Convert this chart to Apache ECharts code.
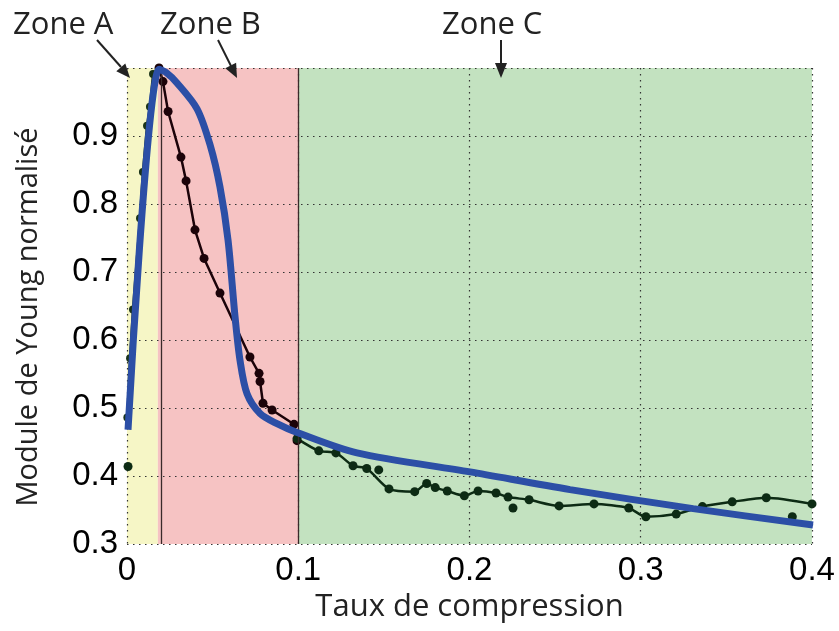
<!DOCTYPE html>
<html>
<head>
<meta charset="utf-8">
<script src="https://cdn.jsdelivr.net/npm/echarts@6/dist/echarts.min.js"></script>
<style>html,body{margin:0;padding:0;background:#fff}#c{width:839px;height:631px}</style>
</head>
<body>
<div id="c"></div>
<script>
// Zone boundaries (Taux de compression)
const zoneBounds = [0, 0.018, 0.1, 0.4];
const zoneNames = ['Zone A', 'Zone B', 'Zone C'];
const xTicks = [0, 0.1, 0.2, 0.3, 0.4];
const yTicks = [0.3, 0.4, 0.5, 0.6, 0.7, 0.8, 0.9];

// Measured data, zone A (rising)
const zoneAData = [[0.0002,0.486],[0.0018,0.573],[0.0035,0.645],[0.0076,0.779],[0.0093,0.847],[0.0117,0.915],[0.0134,0.943],[0.0152,0.991],[0.0187,1.0]];
// Measured data, zone B (falling)
const zoneBData = [[0.0187,1.0],[0.021,0.98],[0.024,0.936],[0.0315,0.869],[0.0345,0.834],[0.0397,0.762],[0.045,0.72],[0.0543,0.669],[0.0718,0.575],[0.0771,0.551],[0.0777,0.539],[0.0794,0.507],[0.0847,0.497],[0.0975,0.476],[0.0993,0.452]];
// Measured data, zone C
const zoneCData = [[0.0993,0.455],[0.112,0.437],[0.122,0.434],[0.132,0.415],[0.140,0.411],[0.153,0.381],[0.168,0.377],[0.175,0.389],[0.180,0.383],[0.187,0.378],[0.197,0.371],[0.205,0.378],[0.2155,0.375],[0.2225,0.369],[0.2348,0.365],[0.2523,0.356],[0.2727,0.359],[0.293,0.353],[0.303,0.340],[0.3207,0.344],[0.336,0.355],[0.3534,0.362],[0.3733,0.368],[0.4,0.359]];
// Isolated measured points
const outlierData = [[0.0006,0.414],[0.147,0.409],[0.2254,0.353],[0.3885,0.340]];
// Model curve
const modelData = [[0.0006,0.468],[0.0187,0.998],[0.0225,0.994],[0.0292,0.978],[0.0409,0.940],[0.0485,0.887],[0.0543,0.825],[0.059,0.747],[0.0631,0.634],[0.066,0.570],[0.0701,0.521],[0.0777,0.492],[0.0876,0.477],[0.0993,0.464],[0.1343,0.434],[0.2003,0.406],[0.2587,0.380],[0.3306,0.352],[0.4006,0.328]];

const zoneColors = ['#f6f6c6', '#f6c3c3', '#c3e2c0'];
const tickFont = 'Liberation Sans';
const titleFont = 'Open Sans';

const chart = echarts.init(document.getElementById('c'));
const dotted = {type: [1.5, 4.5], color: '#333', width: 1.2};

chart.setOption({
  animation: false,
  backgroundColor: '#fff',
  grid: {left: 127, right: 27, top: 68, bottom: 87, containLabel: false},
  xAxis: {
    type: 'value', min: 0, max: 0.4, interval: 0.1, z: 2,
    axisLine: {show: false}, axisTick: {show: false},
    splitLine: {show: true, lineStyle: dotted},
    axisLabel: {fontFamily: tickFont, fontSize: 33, color: '#000', margin: 10,
      formatter: v => { const t = xTicks.find(k => Math.abs(k - v) < 1e-9); return t === undefined ? '' : String(t); }},
    name: 'Taux de compression', nameLocation: 'middle', nameGap: 35,
    nameTextStyle: {fontFamily: titleFont, fontSize: 31, color: '#222'}
  },
  yAxis: {
    type: 'value', min: 0.3, max: 1.0, interval: 0.1, z: 2,
    axisLine: {show: false}, axisTick: {show: false},
    splitLine: {show: true, lineStyle: dotted},
    axisLabel: {fontFamily: tickFont, fontSize: 33, color: '#000', margin: 9,
      formatter: v => { const t = yTicks.find(k => Math.abs(k - v) < 1e-9); return t === undefined ? '' : t.toFixed(1); }},
    name: 'Module de Young normalisé', nameLocation: 'middle', nameGap: 84,
    nameTextStyle: {fontFamily: titleFont, fontSize: 29, color: '#222', padding: [0, 22, 0, 0]}
  },
  series: [
    {
      type: 'line', z: 0, data: [], silent: true,
      markArea: {silent: true, data: zoneNames.map((n, i) => [
        {xAxis: zoneBounds[i], itemStyle: {color: zoneColors[i]}},
        {xAxis: zoneBounds[i + 1]}
      ])}
    },
    {
      type: 'line', z: 2, data: [], silent: true,
      markLine: {silent: true, symbol: 'none', label: {show: false},
        lineStyle: {type: 'solid', color: '#3a2a2a', width: 1.3},
        data: [{xAxis: zoneBounds[1]}, {xAxis: zoneBounds[2]}]}
    },
    {type: 'line', name: 'A', data: zoneAData, z: 3, symbol: 'circle', symbolSize: 8,
      lineStyle: {color: '#1a3318', width: 2.5}, itemStyle: {color: '#1a3318'}},
    {type: 'line', name: 'B', data: zoneBData, z: 3, symbol: 'circle', symbolSize: 9,
      lineStyle: {color: '#1c0309', width: 2.5}, itemStyle: {color: '#1c0309'}},
    {type: 'line', name: 'C', data: zoneCData, z: 3, symbol: 'circle', symbolSize: 9, smooth: 0.25,
      lineStyle: {color: '#0d2b14', width: 2.5}, itemStyle: {color: '#0d2b14'}},
    {type: 'scatter', name: 'pts', data: outlierData, z: 3, symbolSize: 9, itemStyle: {color: '#0d2b14', opacity: 1}},
    {type: 'line', name: 'model', data: modelData, z: 5, symbol: 'none', smooth: 0.3,
      lineStyle: {color: '#2c4fa6', width: 7}}
  ],
  graphic: [
    {type: 'text', z: 100, left: 13, top: 10, style: {text: 'Zone A', font: '31px "Open Sans"', fill: '#222'}},
    {type: 'text', z: 100, left: 160, top: 10, style: {text: 'Zone B', font: '31px "Open Sans"', fill: '#222'}},
    {type: 'text', z: 100, left: 442, top: 10, style: {text: 'Zone C', font: '31px "Open Sans"', fill: '#222'}},
    {type: 'line', z: 100, shape: {x1: 97, y1: 40, x2: 121, y2: 67}, style: {stroke: '#222', lineWidth: 2}},
    {type: 'polygon', z: 100, shape: {points: [[130,78],[116.3,71.3],[125.3,63.5]]}, style: {fill: '#222'}},
    {type: 'line', z: 100, shape: {x1: 218, y1: 40, x2: 231, y2: 66}, style: {stroke: '#222', lineWidth: 2}},
    {type: 'polygon', z: 100, shape: {points: [[237,78],[225.3,68.2],[236.1,62.8]]}, style: {fill: '#222'}},
    {type: 'line', z: 100, shape: {x1: 501, y1: 40, x2: 501, y2: 65}, style: {stroke: '#222', lineWidth: 2}},
    {type: 'polygon', z: 100, shape: {points: [[501,78],[495,63],[507,63]]}, style: {fill: '#222'}}
  ]
});
</script>
</body>
</html>
